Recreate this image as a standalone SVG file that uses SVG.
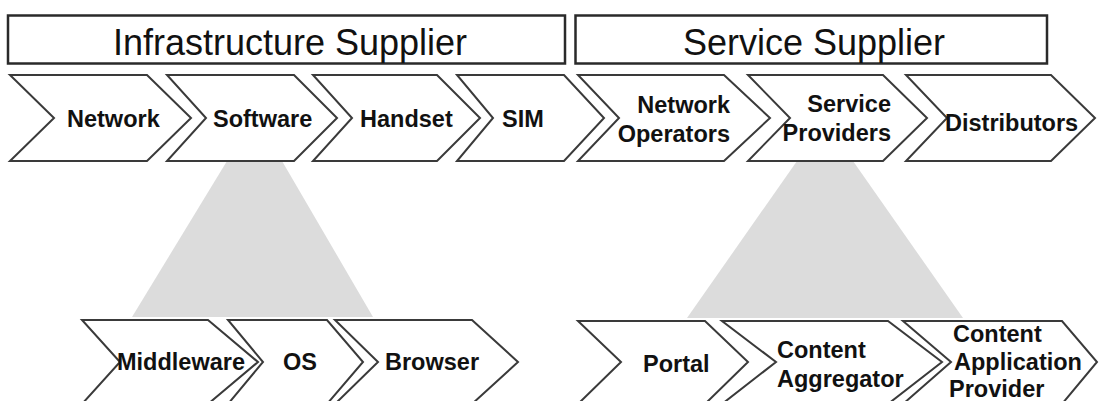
<svg xmlns="http://www.w3.org/2000/svg" width="1101" height="401" viewBox="0 0 1101 401">
  <style>
    .bg { fill: #ffffff; }
    .title-box { fill: #ffffff; stroke: #2a2a2a; stroke-width: 2.5; }
    .title { font-family: "Liberation Sans", Arial, sans-serif; font-size: 36px; fill: #111111; text-anchor: middle; }
    .chev { fill: #ffffff; stroke: #3a3a3a; stroke-width: 2; stroke-linejoin: miter; }
    .lbl { font-family: "Liberation Sans", Arial, sans-serif; font-size: 23.5px; font-weight: bold; fill: #111111; }
    .end { text-anchor: end; }
    .fan { fill: #dcdcdc; }
  </style>

  <rect class="bg" x="0" y="0" width="1101" height="401"/>

  <!-- header bars -->
  <g id="infrastructure-supplier">
    <rect class="title-box" x="8" y="15.5" width="557" height="48"/>
    <text class="title" x="290" y="55">Infrastructure Supplier</text>
  </g>
  <g id="service-supplier">
    <rect class="title-box" x="575.5" y="15.5" width="471.5" height="48"/>
    <text class="title" x="814" y="55">Service Supplier</text>
  </g>

  <!-- expansion fans linking a stage to its breakdown -->
  <g id="connectors">
    <polygon class="fan" points="227,161 282,161 373,317 132,317"/>
    <polygon class="fan" points="797,161 853,161 963,318 687,318"/>
  </g>

  <!-- upper value chain -->
  <g id="network">
    <polygon class="chev" points="10,75 147,75 191,118 147,161 10,161 54,118"/>
    <text class="lbl" x="67" y="127">Network</text>
  </g>
  <g id="software">
    <polygon class="chev" points="167,75 294,75 337,118 294,161 167,161 206,118"/>
    <text class="lbl" x="213" y="127">Software</text>
  </g>
  <g id="handset">
    <polygon class="chev" points="313,75 437,75 480,118 437,161 313,161 352,118"/>
    <text class="lbl" x="360" y="127">Handset</text>
  </g>
  <g id="sim">
    <polygon class="chev" points="457,75 564,75 604,118 564,161 457,161 493,118"/>
    <text class="lbl" x="502" y="127">SIM</text>
  </g>
  <g id="network-operators">
    <polygon class="chev" points="578,75 724,75 770,118 724,161 578,161 619,118"/>
    <text class="lbl end" x="730" y="113">Network</text>
    <text class="lbl end" x="730" y="141.5">Operators</text>
  </g>
  <g id="service-providers">
    <polygon class="chev" points="748,75 883,75 927,118 883,161 748,161 790,118"/>
    <text class="lbl end" x="891" y="112">Service</text>
    <text class="lbl end" x="891" y="141">Providers</text>
  </g>
  <g id="distributors">
    <polygon class="chev" points="906,75 1051,75 1095,118 1051,161 906,161 947,118"/>
    <text class="lbl" x="945" y="131">Distributors</text>
  </g>

  <!-- software breakdown -->
  <g id="middleware">
    <polygon class="chev" points="82,320 208,320 258,362 208,404 82,404 120,362"/>
    <text class="lbl" x="117" y="370">Middleware</text>
  </g>
  <g id="os">
    <polygon class="chev" points="228,320 327,320 363,362 327,404 228,404 263,362"/>
    <text class="lbl" x="283" y="370">OS</text>
  </g>
  <g id="browser">
    <polygon class="chev" points="335,320 472,320 518,362 472,404 335,404 378,362"/>
    <text class="lbl" x="385" y="370">Browser</text>
  </g>

  <!-- service provider breakdown -->
  <g id="portal">
    <polygon class="chev" points="578,321 705,321 748,362 705,404 578,404 621,362"/>
    <text class="lbl" x="643" y="372">Portal</text>
  </g>
  <g id="content-aggregator">
    <polygon class="chev" points="722,321 888,321 942,362 888,404 722,404 776,362"/>
    <text class="lbl" x="777" y="358">Content</text>
    <text class="lbl" x="777" y="387">Aggregator</text>
  </g>
  <g id="content-application-provider">
    <polygon class="chev" points="903,321 1062,321 1097,362 1062,404 903,404 951,362"/>
    <text class="lbl" x="953" y="342">Content</text>
    <text class="lbl" x="954" y="370">Application</text>
    <text class="lbl" x="949" y="397">Provider</text>
  </g>
</svg>
